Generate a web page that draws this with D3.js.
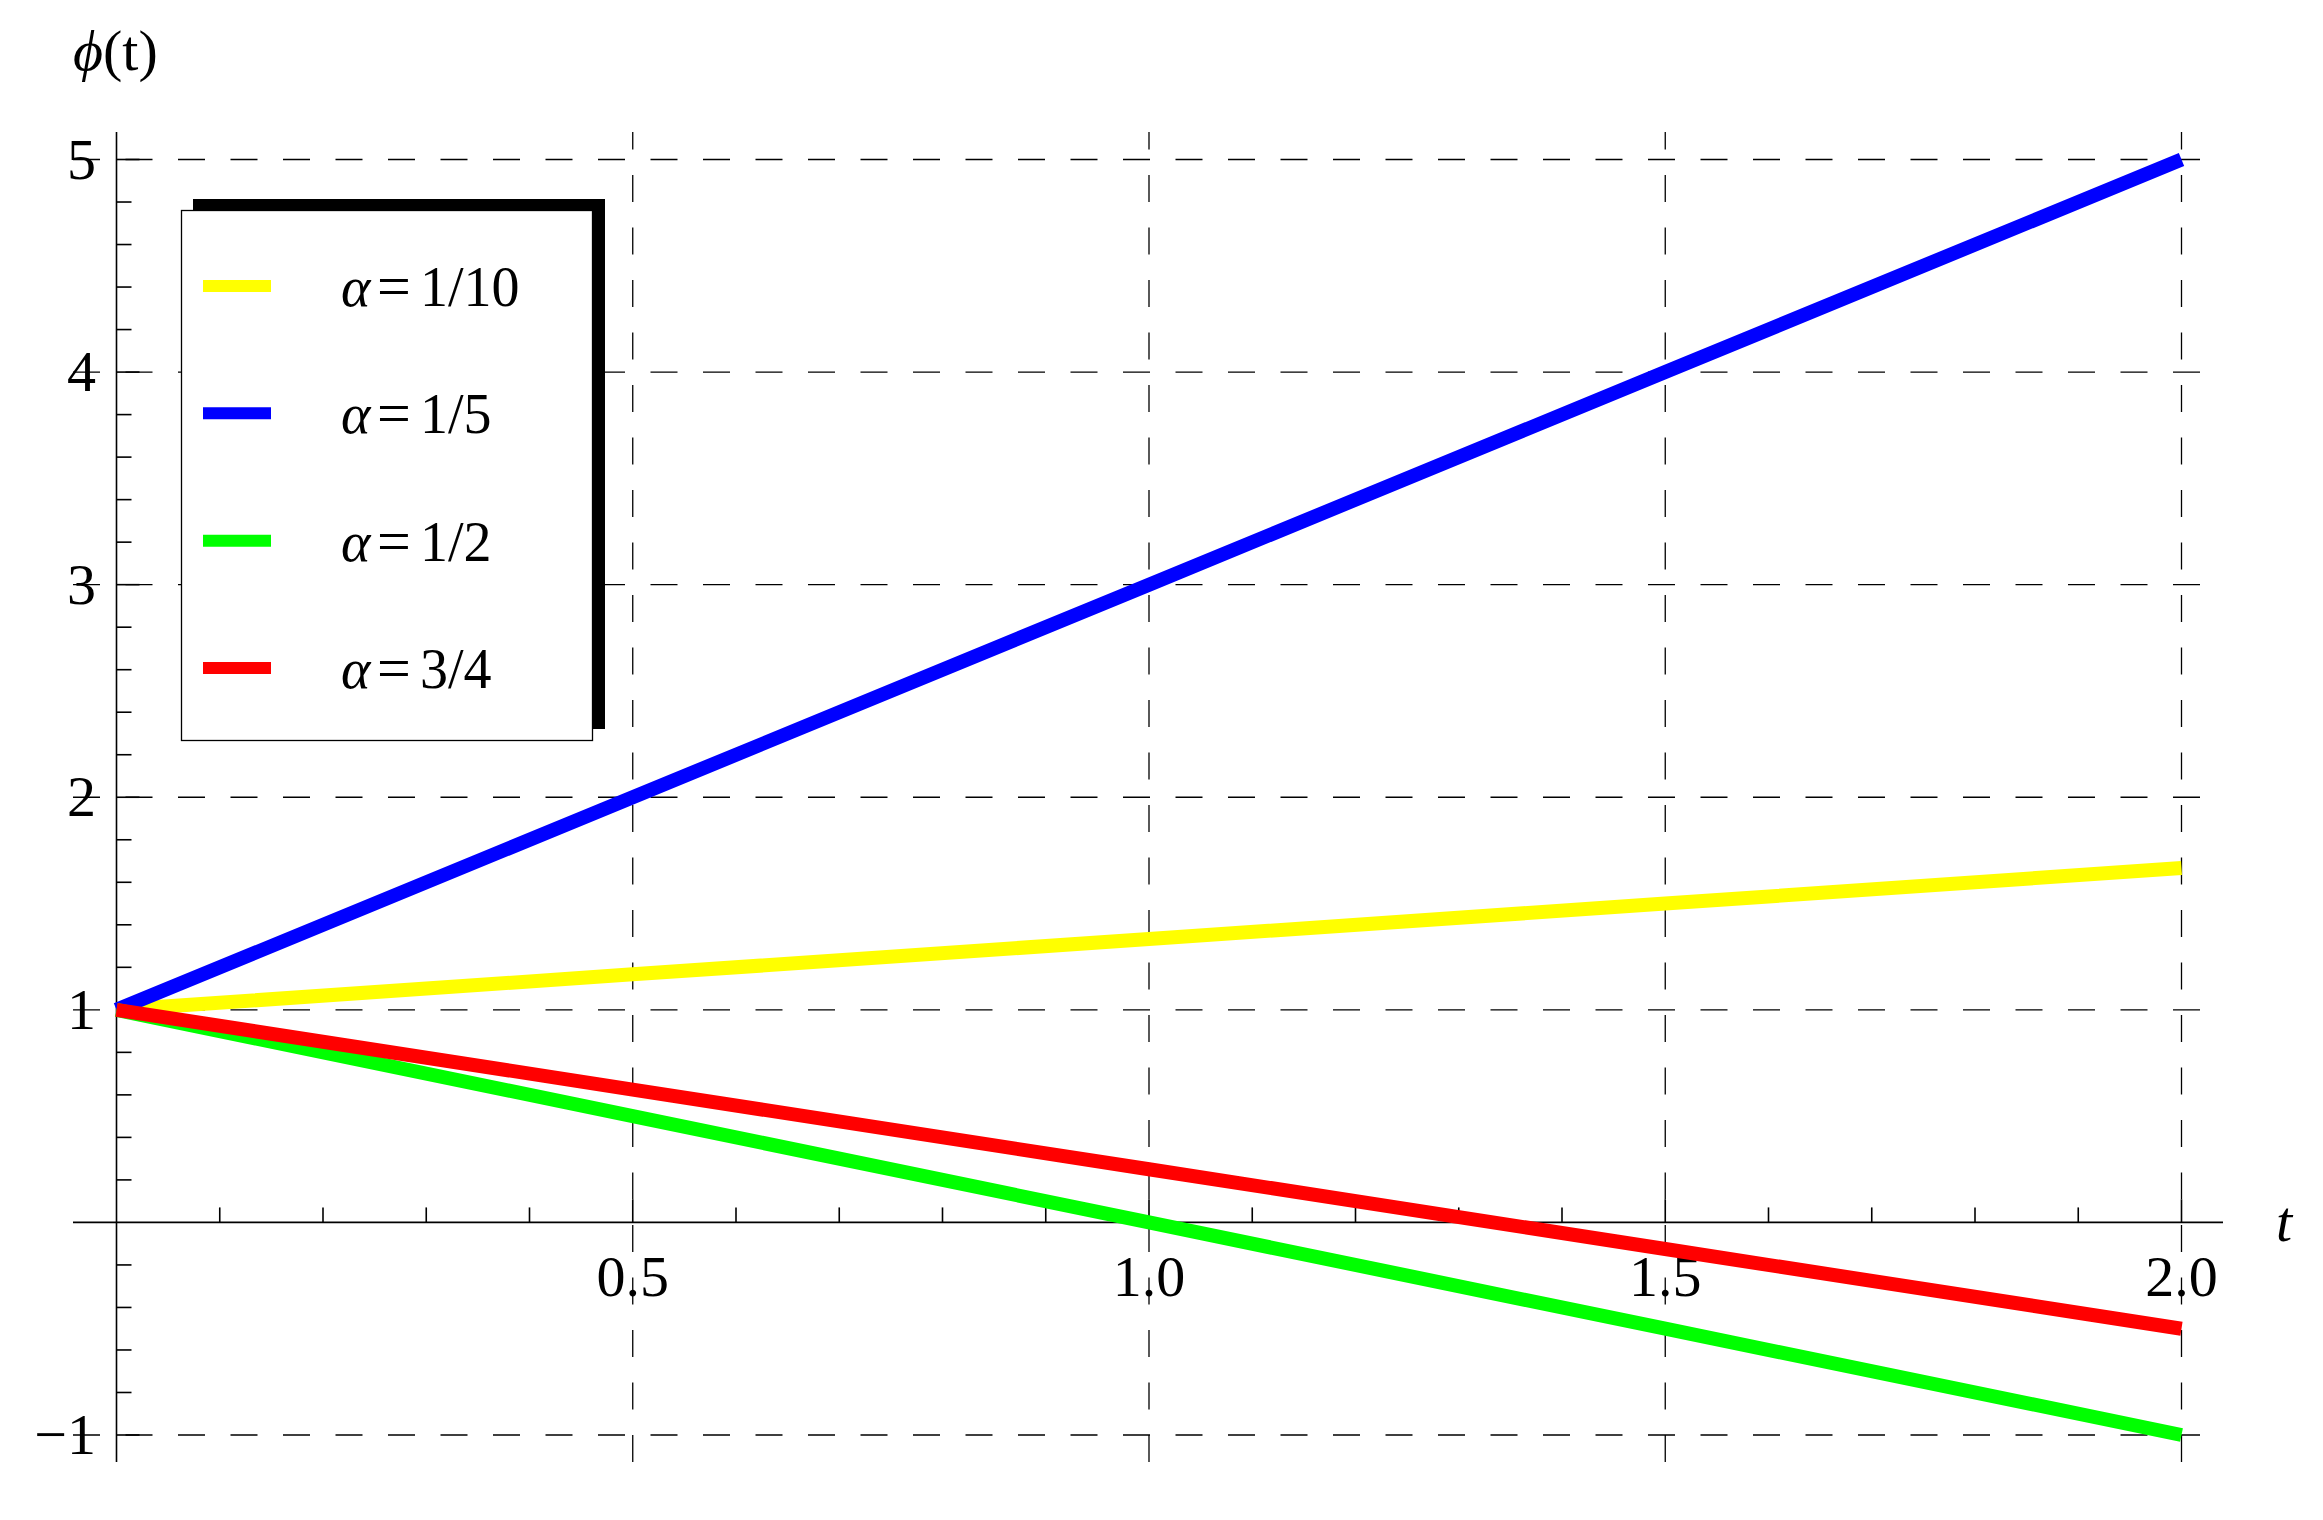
<!DOCTYPE html>
<html><head><meta charset="utf-8">
<script src="https://cdnjs.cloudflare.com/ajax/libs/d3/7.8.5/d3.min.js"></script>
<style>html,body{margin:0;padding:0;background:#fff;}svg{display:block;}</style>
</head><body>
<script>
// ---- data ----
const tValues = [0, 0.5, 1.0, 1.5, 2.0];
const seriesNames = ["α=1/10", "α=1/5", "α=1/2", "α=3/4"];
const alphaFractions = ["1/10", "1/5", "1/2", "3/4"];
const seriesColors = ["#ffff00", "#0000ff", "#00ff00", "#ff0000"];
const yellowValues = [1, 1.167, 1.333, 1.5, 1.667];
const blueValues = [1, 2, 3, 4, 5];
const greenValues = [1, 0.5, 0, -0.5, -1];
const redValues = [1, 0.625, 0.25, -0.125, -0.5];
const xTickValues = [0.5, 1.0, 1.5, 2.0];
const xTickLabels = ["0.5", "1.0", "1.5", "2.0"];
const yTickValues = [-1, 1, 2, 3, 4, 5];
const yTickLabels = ["\u22121", "1", "2", "3", "4", "5"];

const W = 2323, H = 1520;
const FONT = "'Liberation Serif','Times New Roman',serif";
const svg = d3.select("body").append("svg").attr("width", W).attr("height", H);

const x = d3.scaleLinear().domain([0, 2]).range([116.5, 2181.5]);
const y = d3.scaleLinear().domain([-1, 5]).range([1435, 159.5]);

const xMin = x.invert(73), xMax = x.invert(2200), xAxisEnd = x.invert(2223);
const yTop = y.invert(132), yBot = y.invert(1462);

// gridlines
const grid = svg.append("g").attr("stroke", "#000").attr("stroke-width", 1.3).attr("fill", "none")
  .attr("stroke-dasharray", "27,25.5");
grid.selectAll("line.h").data(yTickValues).join("line").attr("class", "h")
  .attr("x1", x(xMin)).attr("x2", x(xMax)).attr("y1", d => y(d)).attr("y2", d => y(d));
grid.selectAll("line.v").data(xTickValues).join("line").attr("class", "v")
  .attr("x1", d => x(d)).attr("x2", d => x(d)).attr("y1", y(yBot)).attr("y2", y(yTop));

// axes
const ax = svg.append("g").attr("stroke", "#000").attr("stroke-width", 1.6);
ax.append("line").attr("x1", x(xMin)).attr("x2", x(xAxisEnd)).attr("y1", y(0)).attr("y2", y(0));
ax.append("line").attr("x1", x(0)).attr("x2", x(0)).attr("y1", y(yTop)).attr("y2", y(yBot));

const xMinor = d3.range(1, 21).map(i => i / 10);
ax.selectAll("line.xt").data(xMinor).join("line").attr("class", "xt")
  .attr("x1", d => x(d)).attr("x2", d => x(d))
  .attr("y1", y(0)).attr("y2", d => y(0) - (Math.abs(d * 2 - Math.round(d * 2)) < 1e-6 ? 23 : 15));
const yMinor = d3.range(-5, 26).filter(i => i !== 0).map(i => i / 5);
ax.selectAll("line.yt").data(yMinor).join("line").attr("class", "yt")
  .attr("y1", d => y(d)).attr("y2", d => y(d))
  .attr("x1", x(0)).attr("x2", d => x(0) + (Math.abs(d - Math.round(d)) < 1e-6 ? 23 : 15));

// tick labels
const fs = 58;
svg.append("g").selectAll("text").data(xTickValues).join("text")
  .attr("x", d => x(d)).attr("y", 1296).attr("text-anchor", "middle")
  .attr("font-family", FONT).attr("font-size", fs).text((d, i) => xTickLabels[i]);
svg.append("g").selectAll("text").data(yTickValues).join("text")
  .attr("x", 96).attr("y", d => y(d) + fs * 0.33).attr("text-anchor", "end")
  .attr("font-family", FONT).attr("font-size", fs).text((d, i) => yTickLabels[i]);

// axis labels
const yl = svg.append("text").attr("x", 73).attr("y", 70).attr("font-family", FONT).attr("font-size", fs);
yl.append("tspan").attr("font-style", "italic").text("\u03D5");
yl.append("tspan").text("(t)");
svg.append("text").attr("x", 2276).attr("y", 1241).attr("font-family", FONT).attr("font-size", fs)
  .attr("font-style", "italic").text("t");

// series
const allSeries = [yellowValues, blueValues, greenValues, redValues];
const line = d3.line().x((d, i) => x(tValues[i])).y(d => y(d));
svg.append("g").selectAll("path").data(allSeries).join("path")
  .attr("d", line).attr("fill", "none").attr("stroke", (d, i) => seriesColors[i])
  .attr("stroke-width", 14).attr("stroke-linecap", "butt");

// legend
const lg = svg.append("g");
lg.append("rect").attr("x", 193).attr("y", 199).attr("width", 412).attr("height", 530).attr("fill", "#000");
lg.append("rect").attr("x", 181.5).attr("y", 210.5).attr("width", 411).attr("height", 530)
  .attr("fill", "#fff").attr("stroke", "#000").attr("stroke-width", 1.3);
const ly = d3.scaleLinear().domain([0, 3]).range([286, 668]);
seriesNames.forEach((name, i) => {
  lg.append("line").attr("x1", 203).attr("x2", 271).attr("y1", ly(i)).attr("y2", ly(i))
    .attr("stroke", seriesColors[i]).attr("stroke-width", 12);
  const t = lg.append("text").attr("y", ly(i) + 20)
    .attr("font-family", FONT).attr("font-size", 56);
  t.append("tspan").attr("x", 341).attr("font-style", "italic").text("α");
  t.append("tspan").attr("x", 377).attr("font-size", 60).text("=");
  t.append("tspan").attr("x", 420).text(alphaFractions[i]);
});
</script>
</body></html>
